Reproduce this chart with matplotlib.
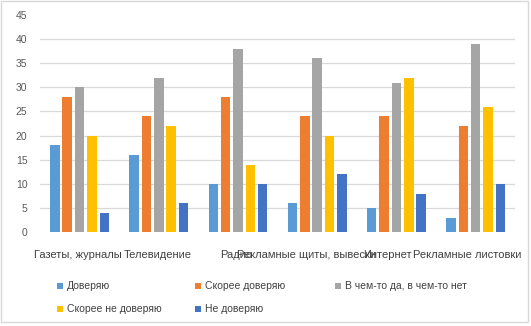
import numpy as np
import matplotlib
matplotlib.use('Agg')
import matplotlib.pyplot as plt
from matplotlib.patches import Rectangle
from matplotlib.transforms import ScaledTranslation

# ---- data ----
categories = ['Газеты, журналы', 'Телевидение', 'Радио',
              'Рекламные щиты, вывески', 'Интернет', 'Рекламные листовки']
series_names = ['Доверяю', 'Скорее доверяю', 'В чем-то да, в чем-то нет',
                'Скорее не доверяю', 'Не доверяю']
trust = [18, 16, 10, 6, 5, 3]
rather_trust = [28, 24, 28, 24, 24, 22]
partly = [30, 32, 38, 36, 31, 39]
rather_not = [20, 22, 14, 20, 32, 26]
no_trust = [4, 6, 10, 12, 8, 10]
y_ticks = [0, 5, 10, 15, 20, 25, 30, 35, 40, 45]

colors = ['#5B9BD5', '#ED7D31', '#A5A5A5', '#FFC000', '#4472C4']

plt.rcParams['font.family'] = ['Liberation Sans', 'DejaVu Sans']

W, H = 531, 326
fig = plt.figure(figsize=(W / 100, H / 100), dpi=100)
ax = fig.add_axes([0.0753, 0.288, 0.895, 0.666])

x = np.arange(len(categories))
pitch = 0.156
width = 0.12
all_series = [trust, rather_trust, partly, rather_not, no_trust]
for i, (vals, name, c) in enumerate(zip(all_series, series_names, colors)):
    ax.bar(x + (i - 2) * pitch, vals, width, color=c, label=name, zorder=3)

ax.set_xlim(-0.5, len(categories) - 0.5)
ax.set_ylim(0, 45)
ax.set_yticks(y_ticks)
ax.tick_params(axis='y', length=0, pad=9, labelsize=7.5, labelcolor='#595959')
ax.set_xticks(x)
ax.set_xticklabels(categories, fontsize=8, color='#404040')
ax.tick_params(axis='x', length=0, pad=13)
for s in ax.spines.values():
    s.set_visible(False)
for yv in y_ticks[1:-1]:
    ax.axhline(yv, color='#D9D9D9', linewidth=0.9, zorder=1)

# Excel pushes the long labels sideways; mimic the shift (pixels)
label_shift = [-2, -1, -2, -11, -9, -8]
for lab, dx in zip(ax.get_xticklabels(), label_shift):
    lab.set_transform(lab.get_transform() + ScaledTranslation(dx / 100, 0, fig.dpi_scale_trans))

# ---- legend, laid out in fixed columns like Excel ----
col_x = [57, 195, 335]
row_y = [286, 309]
for i, (name, c) in enumerate(zip(series_names, colors)):
    cx = col_x[i % 3]
    cy = row_y[i // 3]
    fig.patches.append(Rectangle((cx / W, (H - cy - 3) / H), 6 / W, 6 / H,
                                 transform=fig.transFigure, facecolor=c, edgecolor='none'))
    fig.text((cx + 10) / W, (H - cy) / H, name, fontsize=7.5, color='#404040',
             va='center', ha='left')

fig.patches.append(Rectangle((0.002, 0.012), 0.992, 0.984, transform=fig.transFigure,
                             fill=False, edgecolor='#D9D9D9', linewidth=1.0))

fig.savefig('out.png', dpi=100)
